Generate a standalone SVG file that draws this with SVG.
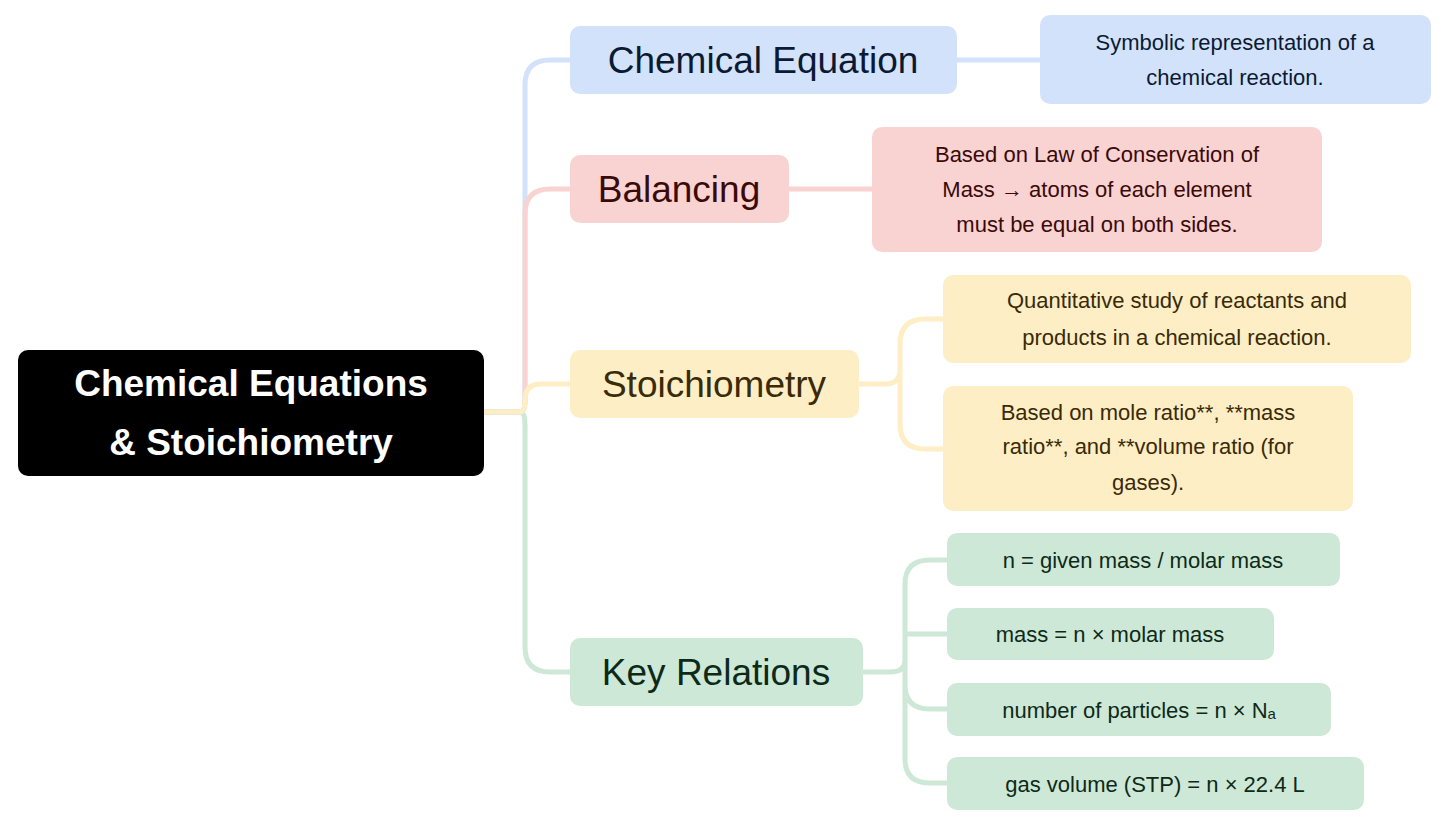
<svg xmlns="http://www.w3.org/2000/svg" width="1446" height="826" viewBox="0 0 1446 826">
<style>
text{font-family:"Liberation Sans",Arial,sans-serif;text-anchor:middle;dominant-baseline:central}
.m{font-size:37px}.s{font-size:22px}
.c{fill:none;stroke-width:5;stroke-linecap:round}
.b{fill:#d3e2fb}.bt{fill:#0b1a33}
.r{fill:#f8d3d1}.rt{fill:#3a0a08}
.y{fill:#fdeec6}.yt{fill:#3a2a05}
.g{fill:#cde8d7}.gt{fill:#0d2a18}
</style>
<rect width="1446" height="826" fill="#fff"/>
<g id="connectors">
<path class="c" stroke="#d3e2fb" d="M484,412 H520 Q525,412 525,400 V85 Q525,60 550,60 H570"/>
<path class="c" stroke="#f8d3d1" d="M484,412 H520 Q525,412 525,400 V214 Q525,189 550,189 H570"/>
<path class="c" stroke="#cde8d7" d="M484,412 H520 Q525,412 525,425 V647 Q525,672 550,672 H570"/>
<path class="c" stroke="#fdeec6" d="M484,412 H520 Q525,412 525,400 Q525,384 541,384 H570"/>
<path class="c" stroke="#f8d3d1" d="M789,189 H872"/>
<path class="c" stroke="#d3e2fb" d="M957,60 H1040"/>
<path class="c" stroke="#fdeec6" d="M859,384 H885 Q900,384 900,370 V344 Q900,319 925,319 H943 M900,370 V424 Q900,449 925,449 H943"/>
<path class="c" stroke="#cde8d7" d="M863,672 H890 Q905,672 905,660 V584 Q905,560 930,560 H947 M905,634 H947 M905,660 V685 Q905,709 930,709 H947 M905,685 V759 Q905,783 930,783 H947"/>
</g>
<g id="root"><rect x="18" y="350" width="466" height="126" rx="10" fill="#000"/>
<text x="251" y="383" class="m" fill="#fff" font-weight="bold">Chemical Equations</text>
<text x="251" y="442" class="m" fill="#fff" font-weight="bold">&amp; Stoichiometry</text></g>
<g id="chemeq"><rect x="570" y="26" width="387" height="68" rx="10" class="b"/><text x="763" y="60" class="m bt">Chemical Equation</text></g>
<g id="chemeq-d"><rect x="1040" y="15" width="391" height="89" rx="10" class="b"/><text x="1235" y="42" class="s bt">Symbolic representation of a</text><text x="1235" y="77" class="s bt">chemical reaction.</text></g>
<g id="bal"><rect x="570" y="155" width="219" height="68" rx="10" class="r"/><text x="679" y="189" class="m rt">Balancing</text></g>
<g id="bal-d"><rect x="872" y="127" width="450" height="125" rx="10" class="r"/><text x="1097" y="154" class="s rt">Based on Law of Conservation of</text><text x="1097" y="189" class="s rt">Mass → atoms of each element</text><text x="1097" y="224" class="s rt">must be equal on both sides.</text></g>
<g id="sto"><rect x="570" y="350" width="289" height="68" rx="10" class="y"/><text x="714" y="384" class="m yt">Stoichiometry</text></g>
<g id="sto-1"><rect x="943" y="275" width="468" height="88" rx="10" class="y"/><text x="1177" y="300" class="s yt">Quantitative study of reactants and</text><text x="1177" y="337" class="s yt">products in a chemical reaction.</text></g>
<g id="sto-2"><rect x="943" y="386" width="410" height="125" rx="10" class="y"/><text x="1148" y="412" class="s yt">Based on mole ratio**, **mass</text><text x="1148" y="446" class="s yt">ratio**, and **volume ratio (for</text><text x="1148" y="482" class="s yt">gases).</text></g>
<g id="key"><rect x="570" y="638" width="293" height="68" rx="10" class="g"/><text x="716" y="672" class="m gt">Key Relations</text></g>
<g id="key-1"><rect x="947" y="533" width="393" height="53" rx="10" class="g"/><text x="1143" y="560" class="s gt">n = given mass / molar mass</text></g>
<g id="key-2"><rect x="947" y="608" width="327" height="52" rx="10" class="g"/><text x="1110" y="634" class="s gt">mass = n × molar mass</text></g>
<g id="key-3"><rect x="947" y="683" width="384" height="53" rx="10" class="g"/><text x="1139" y="710" class="s gt">number of particles = n × Nₐ</text></g>
<g id="key-4"><rect x="947" y="757" width="417" height="53" rx="10" class="g"/><text x="1155" y="784" class="s gt">gas volume (STP) = n × 22.4 L</text></g>
</svg>
